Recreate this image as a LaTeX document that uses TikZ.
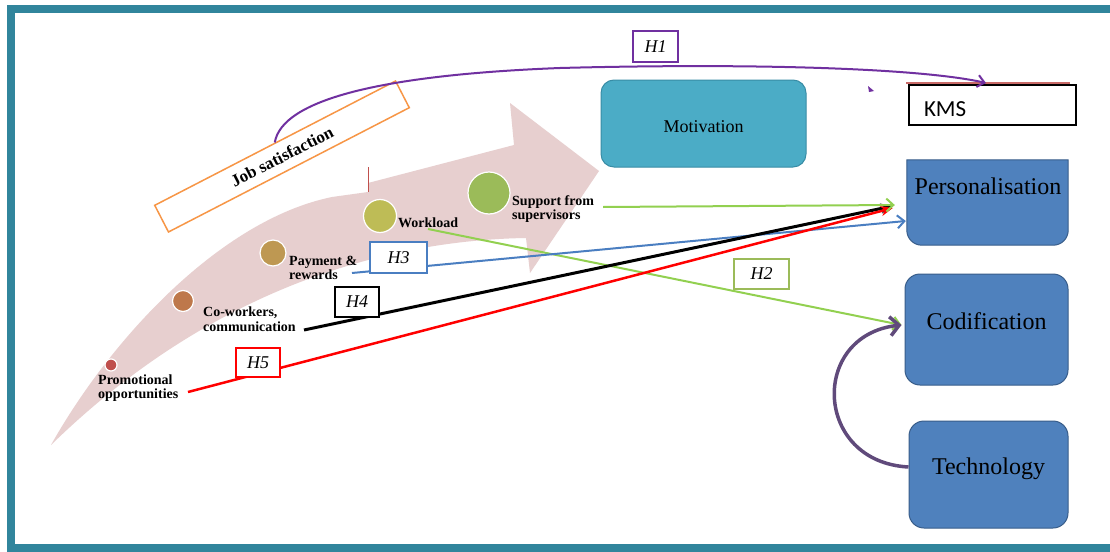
\documentclass[tikz,border=0pt]{standalone}
\usepackage{fontspec}
\setmainfont{Liberation Serif}
\newfontfamily\kmsfont{Carlito}
\usetikzlibrary{arrows.meta,calc}

\definecolor{frameteal}{RGB}{49,133,156}
\definecolor{pinkband}{RGB}{231,207,207}
\definecolor{hpurple}{RGB}{112,48,160}
\definecolor{techpurple}{RGB}{96,74,123}
\definecolor{motfill}{RGB}{75,172,198}
\definecolor{motdraw}{RGB}{56,140,165}
\definecolor{kmfill}{RGB}{79,129,189}
\definecolor{kmdraw}{RGB}{56,93,138}
\definecolor{jsorange}{RGB}{247,150,70}
\definecolor{lgreen}{RGB}{146,208,80}
\definecolor{hblue}{RGB}{74,126,193}
\definecolor{hgreen}{RGB}{155,187,89}
\definecolor{dotA}{RGB}{192,80,77}
\definecolor{dotB}{RGB}{190,120,75}
\definecolor{dotC}{RGB}{190,152,82}
\definecolor{dotD}{RGB}{190,188,86}
\definecolor{dotE}{RGB}{155,187,89}

\begin{document}
\begin{tikzpicture}[x=1pt,y=-1pt,
  dot/.style={circle,draw=white,line width=1.2pt,inner sep=0pt},
  factor/.style={font=\bfseries\fontsize{14}{14.5}\selectfont,align=left,inner sep=0pt,anchor=west},
  kmbox/.style={rounded corners=15pt,fill=kmfill,draw=kmdraw,line width=1pt,inner sep=0pt,
    font=\fontsize{24}{24}\selectfont},
  hbox/.style={fill=white,line width=1.5pt,inner sep=0pt,font=\itshape\fontsize{18}{18}\selectfont},
  openhead/.style={-{Straight Barb[length=7pt,width=13pt]}},
  boldhead/.style={-{Stealth[length=12pt,width=10pt]}}
]
\useasboundingbox (0,0) rectangle (1110,551);
\clip (0,0) rectangle (1110,551);
\fill[white] (0,0) rectangle (1110,551);

% outer frame, open towards the right edge
\draw[frameteal,line width=8pt] (1200,9) -- (11,9) -- (11,548) -- (1200,548);

% curved band arrow
\fill[pinkband] (51,445) .. controls (110,340) and (220,220) .. (332,197)
  -- (368,192) -- (368,183) -- (514,145) -- (510,103) -- (599,171)
  -- (530,273) -- (526,238) .. controls (400,240) and (220,280) .. (51,445) -- cycle;
\draw[dotA,line width=1pt] (368,167) -- (368,192);

% job satisfaction label
\node[rotate=27.3,draw=jsorange,fill=white,line width=1.5pt,minimum width=271pt,
  minimum height=30pt,inner sep=0pt,font=\bfseries\fontsize{17}{17}\selectfont]
  (js) at (282,156.5) {Job satisfaction};

% factor circles
\node[dot,fill=dotA,minimum size=12pt] (d1) at (111,365) {};
\node[dot,fill=dotB,minimum size=21pt] (d2) at (183,301) {};
\node[dot,fill=dotC,minimum size=26pt] (d3) at (273,253) {};
\node[dot,fill=dotD,minimum size=33pt] (d4) at (380,216) {};
\node[dot,fill=dotE,minimum size=42pt] (d5) at (489,193) {};

% factor names
\node[factor] (t1) at (98,388) {Promotional\\opportunities};
\node[factor] (t2) at (203,319) {Co-workers,\\communication};
\node[factor] (t3) at (289,268) {Payment \&\\rewards};
\node[factor,anchor=base west] (t4) at (398,227) {Workload};
\node[factor] (t5) at (512,209) {Support from\\supervisors};

% motivation
\node[rounded corners=13pt,fill=motfill,draw=motdraw,line width=1pt,inner sep=0pt,
  minimum width=205pt,minimum height=87pt,text height=17pt,text depth=0pt,
  font=\fontsize{18}{18}\selectfont] (mot) at (703.5,123.5) {Motivation};

% KMS
\draw[dotA!85,line width=2pt] (906,83) -- (1070,83);
\fill[hpurple] (868,86) -- (874,91) -- (869,92) -- cycle;
\node[draw=black,fill=white,line width=1.3pt,minimum width=167pt,minimum height=40pt,
  text width=137pt,inner xsep=15pt,inner ysep=0pt,align=left,text height=22pt,text depth=0pt,
  font=\kmsfont\fontsize{23}{23}\selectfont] (kms) at (992.5,105) {KMS};

% knowledge strategies
\node[minimum width=161pt,minimum height=85pt,inner sep=0pt] (pers) at (987.5,202.5) {};
\path[fill=kmfill,draw=kmdraw,line width=1pt]
  (pers.west) -- (pers.north west) -- (pers.north east) -- (pers.east)
  [rounded corners=15pt] -- (pers.south east) -- (pers.south west) -- (pers.west) -- cycle;
\node[anchor=base,inner sep=0pt,font=\fontsize{24}{24}\selectfont] (perstxt) at (988,194) {Personalisation};
\node[kmbox,minimum width=163pt,minimum height=111pt,text height=17pt,text depth=17pt]
  (cod) at (986.5,329.5) {Codification};
\node[kmbox,minimum width=159pt,minimum height=107pt,text height=17pt,text depth=17pt]
  (tech) at (988.5,474.5) {Technology};

% hypothesis connectors
\coordinate (sS) at (603,207);
\coordinate (wS) at (428,229);
\coordinate (pS) at (352,273);
\coordinate (cS) at (304,330);
\coordinate (oS) at (188,392);
\coordinate (h1e) at (986,83);

\draw[lgreen,line width=2pt,openhead] (wS) -- ([xshift=-3pt,yshift=4.5pt]cod.west);
\draw[hblue,line width=2pt,openhead] (pS) -- ([xshift=-1pt,yshift=-18.5pt]pers.west);
\draw[black,line width=3pt,boldhead] (cS) -- ([xshift=-14pt,yshift=-3.5pt]pers.west);
\draw[red,line width=2.5pt,boldhead] (oS) -- ([xshift=-14pt,yshift=-5.5pt]pers.west);
\draw[lgreen,line width=2pt,openhead] (sS) -- ([xshift=-12pt,yshift=-2.5pt]pers.west);

\draw[techpurple,line width=3.5pt,-{Straight Barb[length=9pt,width=19pt]}]
  ([yshift=7.5pt]tech.west) .. controls +(-95,-5) and +(-92,10) .. ([xshift=-3pt,yshift=4.5pt]cod.west);

\draw[hpurple,line width=2pt,-{Straight Barb[length=7pt,width=12pt]}]
  (js.north) .. controls (282,100) and (380,75) .. (560,68)
  .. controls (750,63) and (920,68) .. (h1e);

% hypothesis labels
\node[hbox,draw=hpurple,minimum width=45pt,minimum height=31pt] (H1) at (655.5,46.5) {H1};
\node[hbox,draw=hgreen,minimum width=55pt,minimum height=30pt] (H2) at (761.5,274) {H2};
\node[hbox,draw=hblue,minimum width=57pt,minimum height=31pt] (H3) at (398.5,257.5) {H3};
\node[hbox,draw=black,minimum width=44pt,minimum height=30pt] (H4) at (357,302) {H4};
\node[hbox,draw=red,minimum width=44pt,minimum height=29pt] (H5) at (258,362.5) {H5};
\end{tikzpicture}
\end{document}
